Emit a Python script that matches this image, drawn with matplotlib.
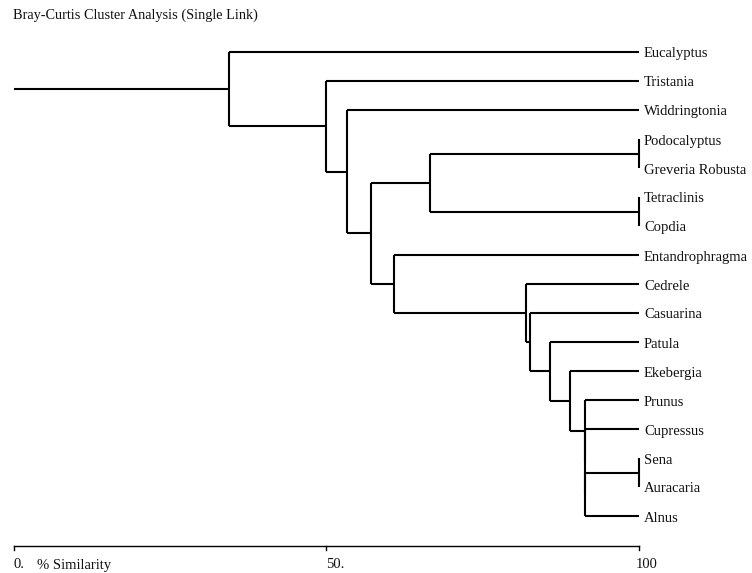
import matplotlib
matplotlib.use("Agg")
import matplotlib.pyplot as plt

# ---- data ----
title = "Bray-Curtis Cluster Analysis (Single Link)"
leaves = ["Eucalyptus", "Tristania", "Widdringtonia", "Podocalyptus",
          "Greveria Robusta", "Tetraclinis", "Copdia", "Entandrophragma",
          "Cedrele", "Casuarina", "Patula", "Ekebergia", "Prunus",
          "Cupressus", "Sena", "Auracaria", "Alnus"]
# merges: (child a, child b, % similarity); str = leaf, int = earlier merge index
merges = [
    ("Podocalyptus", "Greveria Robusta", 100.0),  # 0
    ("Tetraclinis", "Copdia", 100.0),             # 1
    ("Sena", "Auracaria", 100.0),                 # 2
    (2, "Alnus", 91.3),                           # 3
    ("Cupressus", 3, 91.3),                       # 4
    ("Prunus", 4, 91.3),                          # 5
    ("Ekebergia", 5, 89.0),                       # 6
    ("Patula", 6, 85.8),                          # 7
    ("Casuarina", 7, 82.5),                       # 8
    ("Cedrele", 8, 82.0),                         # 9
    ("Entandrophragma", 9, 60.9),                 # 10
    (0, 1, 66.6),                                 # 11
    (11, 10, 57.2),                               # 12
    ("Widdringtonia", 12, 53.3),                  # 13
    ("Tristania", 13, 50.0),                      # 14
    ("Eucalyptus", 14, 34.5),                     # 15
]
axis_ticks = [0, 50, 100]
axis_tick_labels = ["0.", "50.", "100"]
axis_name = "% Similarity"

# ---- figure ----
W, H = 752, 573
fig = plt.figure(figsize=(W / 100, H / 100), dpi=100)
ax = fig.add_axes([0, 0, 1, 1])
px_per_unit = (639 - 13.5) / 100.0
ax.set_xlim(-13.5 / px_per_unit, (W - 13.5) / px_per_unit)
top_px, step_px = 52.0, 29.0
ax.set_ylim((H - top_px) / step_px, -top_px / step_px)
ax.axis("off")

font = dict(family=["Liberation Serif", "DejaVu Serif"], size=10.5, color="#111111")
lw = 1.5

pos = {}
for i, name in enumerate(leaves):
    pos[name] = (100.0, float(i))


def getpos(c):
    return pos[c] if isinstance(c, str) else pos[("m", c)]


for k, (a, b, s) in enumerate(merges):
    xa, ya = getpos(a)
    xb, yb = getpos(b)
    ax.plot([s, s], [ya, yb], color="black", lw=lw, solid_capstyle="butt")
    if xa != s:
        ax.plot([s, xa], [ya, ya], color="black", lw=lw, solid_capstyle="butt")
    if xb != s:
        ax.plot([s, xb], [yb, yb], color="black", lw=lw, solid_capstyle="butt")
    pos[("m", k)] = (s, (ya + yb) / 2.0)

rx, ry = pos[("m", len(merges) - 1)]
ax.plot([0, rx], [ry, ry], color="black", lw=lw, solid_capstyle="butt")

# leaf labels
dy = 2.0 / step_px
for i, name in enumerate(leaves):
    ax.text(100 + 5 / px_per_unit, i + dy, name, ha="left", va="center", **font)

# similarity axis
axis_y = (546 - top_px) / step_px
tick_len = 4 / step_px
ax.plot([axis_ticks[0], axis_ticks[-1]], [axis_y, axis_y], color="black", lw=1.0)
for t in axis_ticks:
    ax.plot([t, t], [axis_y, axis_y + tick_len], color="black", lw=1.0)
lab_y = (565 - top_px) / step_px
for t, lab in zip(axis_ticks, axis_tick_labels):
    off = -3 / px_per_unit if t == 100 else 0
    ax.text(t + off, lab_y, lab, ha="left", va="center", **font)
ax.text(37 / px_per_unit - 13.5 / px_per_unit, lab_y, axis_name, ha="left", va="center", **font)

title_font = dict(font, size=10.3)
fig.text(13 / W, 1 - 15 / H, title, ha="left", va="center", **title_font)

fig.savefig("out.png", dpi=100)
